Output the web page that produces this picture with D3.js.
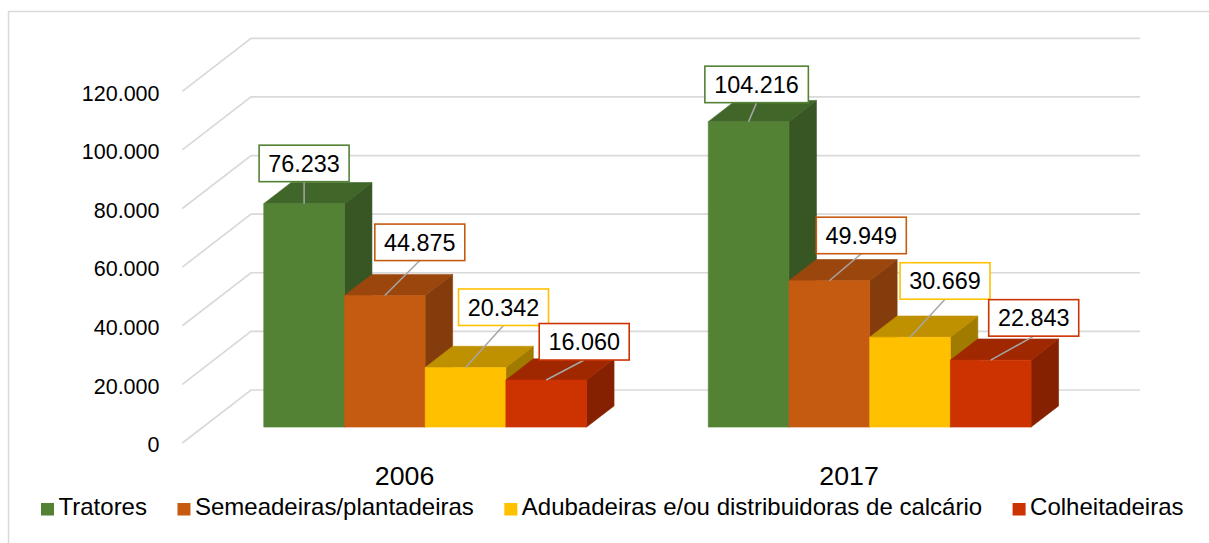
<!DOCTYPE html>
<html>
<head>
<meta charset="utf-8">
<script src="https://cdn.jsdelivr.net/npm/d3@7"></script>
<style>
  body { margin: 0; background: #fff; }
  svg { display: block; font-family: "Liberation Sans", Arial, sans-serif; }
</style>
</head>
<body>
<div id="chart"></div>
<script>
var width = 1209;
var height = 543;

// data
var years = ["2006", "2017"];
var series = ["Tratores", "Semeadeiras/plantadeiras", "Adubadeiras e/ou distribuidoras de calcário", "Colheitadeiras"];
var values2006 = [76233, 44875, 20342, 16060];
var values2017 = [104216, 49949, 30669, 22843];
var yTicks = [0, 20000, 40000, 60000, 80000, 100000, 120000];

// colours per series: front, top, side
var fronts = ["#548235", "#C55A11", "#FFC000", "#CC3300"];
var tops   = ["#416629", "#9B460D", "#BF9000", "#A02800"];
var sides  = ["#375623", "#843C0C", "#A07B00", "#852100"];

// where Excel put the callouts (box centre offset from bar top)
var labelShift = [
    [[0, -22], [35, -35], [38, -42], [38, -20]],
    [[8, -19], [32, -27], [35, -38], [43, -24]]
];

var fmt = function(v) { return d3.format(",")(v).replace(/,/g, "."); };

// 3d layout: back wall + depth offset
var DX = 68.7, DY = 53;
var zFront = 0.70, zBack = 0.30;

var x0 = d3.scaleBand().domain(years).range([251, 1140]);
var x1 = d3.scaleBand().domain(series).range([0, x0.bandwidth()]).paddingOuter(0.754);
var y = d3.scaleLinear().domain([0, 120000]).range([390, 38.3]);

function proj(x, v, z) {
    return [x - DX * z, y(v) + DY * z];
}

var svg = d3.select("#chart").append("svg")
    .attr("width", width)
    .attr("height", height);

svg.append("rect")
    .attr("x", 8.5).attr("y", 11.5)
    .attr("width", 1400).attr("height", 800)
    .attr("fill", "none")
    .attr("stroke", "#d9d9d9")
    .attr("stroke-width", 1.5);

// gridlines: back wall + side wall diagonal
var grid = svg.append("g").attr("stroke", "#d9d9d9").attr("stroke-width", 1.7).attr("fill", "none");
yTicks.forEach(function(t) {
    var a = proj(251, t, 1), b = proj(251, t, 0), c = proj(1140, t, 0);
    grid.append("polyline")
        .attr("points", [a, b, c].map(function(p) { return p.join(","); }).join(" "));
});

// y tick labels
svg.append("g").selectAll("text")
    .data(yTicks)
    .enter().append("text")
    .attr("x", 159.5)
    .attr("y", function(d) { return proj(251, d, 1)[1] + 9.3; })
    .attr("text-anchor", "end")
    .attr("font-size", "21.5px")
    .attr("fill", "#000")
    .text(function(d) { return fmt(d); });

// category labels
svg.append("g").selectAll("text")
    .data(years)
    .enter().append("text")
    .attr("x", function(d) { return x0(d) + x0.bandwidth() / 2 - DX; })
    .attr("y", 485)
    .attr("text-anchor", "middle")
    .attr("font-size", "26.7px")
    .attr("fill", "#000")
    .text(function(d) { return d; });

// bars
var allValues = [values2006, values2017];
var bars = svg.append("g");
var points = [];
years.forEach(function(yr, gi) {
    series.forEach(function(s, si) {
        var v = allValues[gi][si];
        var xl = x0(yr) + x1(s), xr = xl + x1.bandwidth();
        var fbl = proj(xl, 0, zFront), fbr = proj(xr, 0, zFront),
            ftl = proj(xl, v, zFront), ftr = proj(xr, v, zFront),
            btl = proj(xl, v, zBack), btr = proj(xr, v, zBack),
            bbr = proj(xr, 0, zBack);
        var poly = function(pts) { return pts.map(function(p) { return p.join(","); }).join(" "); };
        bars.append("polygon").attr("points", poly([fbr, ftr, btr, bbr]))
            .attr("fill", sides[si]).attr("stroke", sides[si]).attr("stroke-width", 0.6);
        bars.append("polygon").attr("points", poly([ftl, ftr, btr, btl]))
            .attr("fill", tops[si]).attr("stroke", tops[si]).attr("stroke-width", 0.6);
        bars.append("polygon").attr("points", poly([fbl, fbr, ftr, ftl]))
            .attr("fill", fronts[si]).attr("stroke", fronts[si]).attr("stroke-width", 0.6);
        points.push({v: v, si: si, gi: gi, x: (ftl[0] + ftr[0]) / 2, y: ftl[1]});
    });
});

// callout labels
var labels = svg.append("g");
points.forEach(function(p) {
    var sh = labelShift[p.gi][p.si];
    var txt = fmt(p.v);
    var w = txt.length > 6 ? 103.5 : 90;
    var h = 36.5;
    var cx = p.x + sh[0];
    var bottom = p.y + sh[1];
    labels.append("line")
        .attr("x1", cx).attr("y1", bottom)
        .attr("x2", p.x).attr("y2", p.y)
        .attr("stroke", "#a6a6a6").attr("stroke-width", 1.5);
    labels.append("rect")
        .attr("x", cx - w / 2).attr("y", bottom - h)
        .attr("width", w).attr("height", h)
        .attr("fill", "#fff")
        .attr("stroke", fronts[p.si]).attr("stroke-width", 1.6);
    labels.append("text")
        .attr("x", cx).attr("y", bottom - h / 2 + 8.4)
        .attr("text-anchor", "middle")
        .attr("font-size", "23.4px")
        .attr("fill", "#000")
        .text(txt);
});

// legend
var legend = svg.append("g");
var lx = 41;
series.forEach(function(s, i) {
    legend.append("rect")
        .attr("x", lx).attr("y", 503)
        .attr("width", 13).attr("height", 12.5)
        .attr("fill", fronts[i]);
    var t = legend.append("text")
        .attr("x", lx + 17.5).attr("y", 515)
        .attr("font-size", "24px")
        .attr("fill", "#000")
        .text(s);
    lx += 17.5 + t.node().getComputedTextLength() + 30.5;
});
</script>
</body>
</html>
